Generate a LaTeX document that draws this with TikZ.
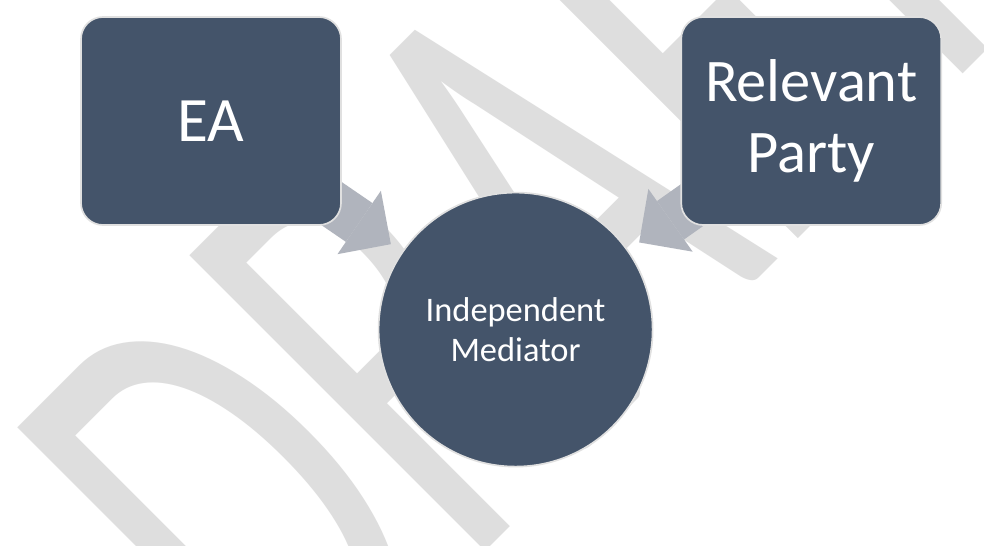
\documentclass[tikz,border=0pt]{standalone}
\usepackage{fontspec}
\setmainfont{Carlito}
\usetikzlibrary{arrows.meta,calc}

\definecolor{slate}{RGB}{68,84,106}
\definecolor{feedgray}{RGB}{176,180,189}
\definecolor{edgegray}{RGB}{224,224,224}
\definecolor{wmgray}{RGB}{222,222,222}

\pgfdeclarelayer{wm}
\pgfdeclarelayer{bg}
\pgfsetlayers{wm,bg,main}

\tikzset{
  party/.style={rectangle, rounded corners=0.55cm, fill=slate, draw=edgegray,
    line width=1.2pt, text=white, align=center,
    minimum width=6.5cm, minimum height=5.2cm},
  hubnode/.style={circle, fill=slate, draw=edgegray, line width=1.2pt,
    text=white, align=center, minimum size=6.85cm,
    font=\fontsize{24.5}{28.5}\selectfont},
  feed/.style={feedgray, line width=1.175cm,
    -{Triangle[length=0.96cm, width=1.92cm, line width=0pt]}},
  wmark/.style={wmgray, inner sep=0pt, anchor=base west,
    font=\fontsize{281}{281}\selectfont}
}

\begin{document}
\begin{tikzpicture}
  \useasboundingbox (0,0) rectangle (24.6,-13.625);

  \node[party, font=\fontsize{45}{54}\selectfont] (ea) at (5.275,-3.025) {EA};
  \node[party, font=\fontsize{43}{50.5}\selectfont] (rp) at (20.28,-3.025) {Relevant\\Party};
  \node[hubnode] (hub) at (12.89,-8.24) {Independent\\Mediator};

  % both parties feed into the mediator
  \begin{pgfonlayer}{bg}
    \foreach \src in {ea,rp}
      \draw[feed] (\src.center) -- ($(hub.center)!3.78cm!(\src.center)$);
  \end{pgfonlayer}

  % white page and the watermark under everything
  \begin{pgfonlayer}{wm}
    \fill[white] (0,0) rectangle (24.6,-13.625);
    \begin{scope}
      \clip (0,0) rectangle (24.6,-13.625);
      \begin{scope}[shift={(7.35,-18.575)}, rotate=45, yscale=1.65]
        \node[wmark, transform shape] (draft) at (0,0) {DRAFT};
      \end{scope}
    \end{scope}
  \end{pgfonlayer}
\end{tikzpicture}
\end{document}
